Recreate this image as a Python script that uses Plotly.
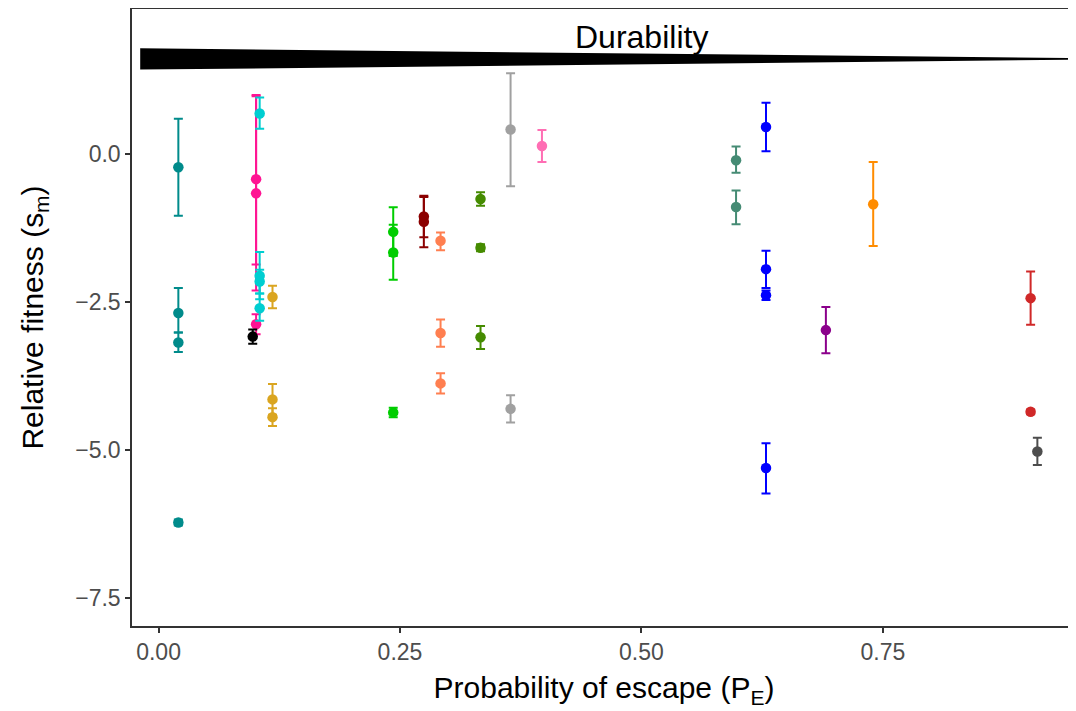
import plotly.graph_objects as go

# Values
group = ['teal', 'teal', 'teal', 'teal',
         'pink', 'pink', 'pink',
         'cyan', 'cyan', 'cyan', 'cyan',
         'black',
         'gold', 'gold', 'gold',
         'green', 'green', 'green',
         'darkred', 'darkred',
         'coral', 'coral', 'coral',
         'olive', 'olive', 'olive',
         'grey', 'grey',
         'hotpink',
         'seagreen', 'seagreen',
         'blue', 'blue', 'blue', 'blue',
         'purple',
         'orange',
         'red', 'red',
         'darkgrey']
p_escape = [0.0205, 0.0205, 0.0205, 0.0205,
            0.101, 0.101, 0.101,
            0.1047, 0.1047, 0.1047, 0.1047,
            0.0975,
            0.118, 0.118, 0.118,
            0.243, 0.243, 0.243,
            0.2747, 0.2747,
            0.292, 0.292, 0.292,
            0.3334, 0.3334, 0.3334,
            0.3645, 0.3645,
            0.397,
            0.598, 0.598,
            0.629, 0.629, 0.629, 0.629,
            0.691,
            0.740,
            0.903, 0.903,
            0.910]
fitness = [-0.22, -2.68, -3.18, -6.22,
           -0.42, -0.66, -2.87,
           0.69, -2.05, -2.15, -2.60,
           -3.08,
           -2.41, -4.14, -4.44,
           -1.31, -1.66, -4.36,
           -1.05, -1.14,
           -1.46, -3.02, -3.87,
           -0.755, -1.58, -3.09,
           0.42, -4.30,
           0.14,
           -0.10, -0.89,
           0.46, -1.94, -2.38, -5.30,
           -2.97,
           -0.845,
           -2.43, -4.35,
           -5.02]
upper = [0.60, -2.26, -3.01, -6.17,
         1.00, 0.98, -2.70,
         0.96, -1.65, -1.95, -2.35,
         -2.96,
         -2.22, -3.88, -4.29,
         -0.895, -1.19, -4.28,
         -0.70, -0.72,
         -1.32, -2.79, -3.70,
         -0.64, -1.52, -2.90,
         1.37, -4.07,
         0.41,
         0.13, -0.61,
         0.87, -1.63, -2.30, -4.88,
         -2.58,
         -0.13,
         -1.98, -4.31,
         -4.79]
lower = [-1.04, -3.01, -3.34, -6.27,
         -1.86, -2.30, -3.04,
         0.43, -2.45, -2.35, -2.81,
         -3.20,
         -2.60, -4.40, -4.59,
         -1.72, -2.12, -4.44,
         -1.40, -1.57,
         -1.62, -3.25, -4.04,
         -0.87, -1.64, -3.29,
         -0.54, -4.53,
         -0.13,
         -0.31, -1.18,
         0.05, -2.26, -2.46, -5.73,
         -3.36,
         -1.55,
         -2.88, -4.39,
         -5.25]

x_ticks = [0, 0.25, 0.5, 0.75]
x_tick_text = ['0.00', '0.25', '0.50', '0.75']
y_ticks = [0, -2.5, -5, -7.5]
y_tick_text = ['0.0', '\u22122.5', '\u22125.0', '\u22127.5']

# Durability wedge outline (data coords)
wedge_x = [-0.019, 0.952, 0.952, -0.019]
wedge_y = [1.79, 1.625, 1.60, 1.43]

colors = {
    'teal': '#008B8B', 'pink': '#FF1493', 'cyan': '#00CED1',
    'black': '#000000', 'gold': '#DAA520', 'green': '#00CD00',
    'darkred': '#8B0000', 'coral': '#FF7F50', 'olive': '#458B00',
    'grey': '#A0A0A0', 'hotpink': '#FF6EB4', 'seagreen': '#458B74',
    'blue': '#0000FF', 'purple': '#8B008B', 'orange': '#FF8C00',
    'red': '#D02828', 'darkgrey': '#4D4D4D',
}

font = 'Liberation Sans, Arial, Helvetica, sans-serif'

fig = go.Figure()

fig.add_trace(go.Scatter(
    x=wedge_x, y=wedge_y, fill='toself', mode='lines',
    fillcolor='black', line=dict(color='black', width=0),
    hoverinfo='skip', showlegend=False))

order = list(dict.fromkeys(group))
for g in order:
    idx = [i for i, gg in enumerate(group) if gg == g]
    xs = [p_escape[i] for i in idx]
    ys = [fitness[i] for i in idx]
    up = [upper[i] - fitness[i] for i in idx]
    dn = [fitness[i] - lower[i] for i in idx]
    fig.add_trace(go.Scatter(
        x=xs, y=ys, mode='markers', name=g, showlegend=False,
        marker=dict(color=colors[g], size=10.5),
        error_y=dict(type='data', symmetric=False, array=up,
                     arrayminus=dn, color=colors[g], thickness=2,
                     width=4.5),
    ))

fig.add_annotation(x=0.5, y=1.98, text='Durability', showarrow=False,
                   font=dict(size=32, color='black', family=font))

# page body adds an 8px offset, so the figure is 8px smaller
fig.update_layout(
    width=1068, height=703,
    margin=dict(l=124, r=0, t=1, b=85),
    paper_bgcolor='white', plot_bgcolor='white',
    font=dict(family=font),
    xaxis=dict(
        range=[-0.0275, 0.950], tickvals=x_ticks, ticktext=x_tick_text,
        showgrid=False, zeroline=False, showline=True, mirror=True,
        linecolor='#333333', linewidth=1.5, ticks='outside', ticklen=5,
        tickwidth=1.5, tickcolor='#333333',
        tickfont=dict(size=23, color='#4D4D4D'),
        title=dict(text='Probability of escape (P<sub>E</sub>)',
                   font=dict(size=30, color='black'), standoff=13),
    ),
    yaxis=dict(
        range=[-7.968, 2.454], tickvals=y_ticks, ticktext=y_tick_text,
        showgrid=False, zeroline=False, showline=True,
        linecolor='#333333', linewidth=1.5, ticks='outside', ticklen=5,
        tickwidth=1.5, tickcolor='#333333',
        tickfont=dict(size=23, color='#4D4D4D'),
        title=dict(text='Relative fitness (s<sub>m</sub>)',
                   font=dict(size=30, color='black'), standoff=23),
    ),
)

fig.write_html('out.html')
